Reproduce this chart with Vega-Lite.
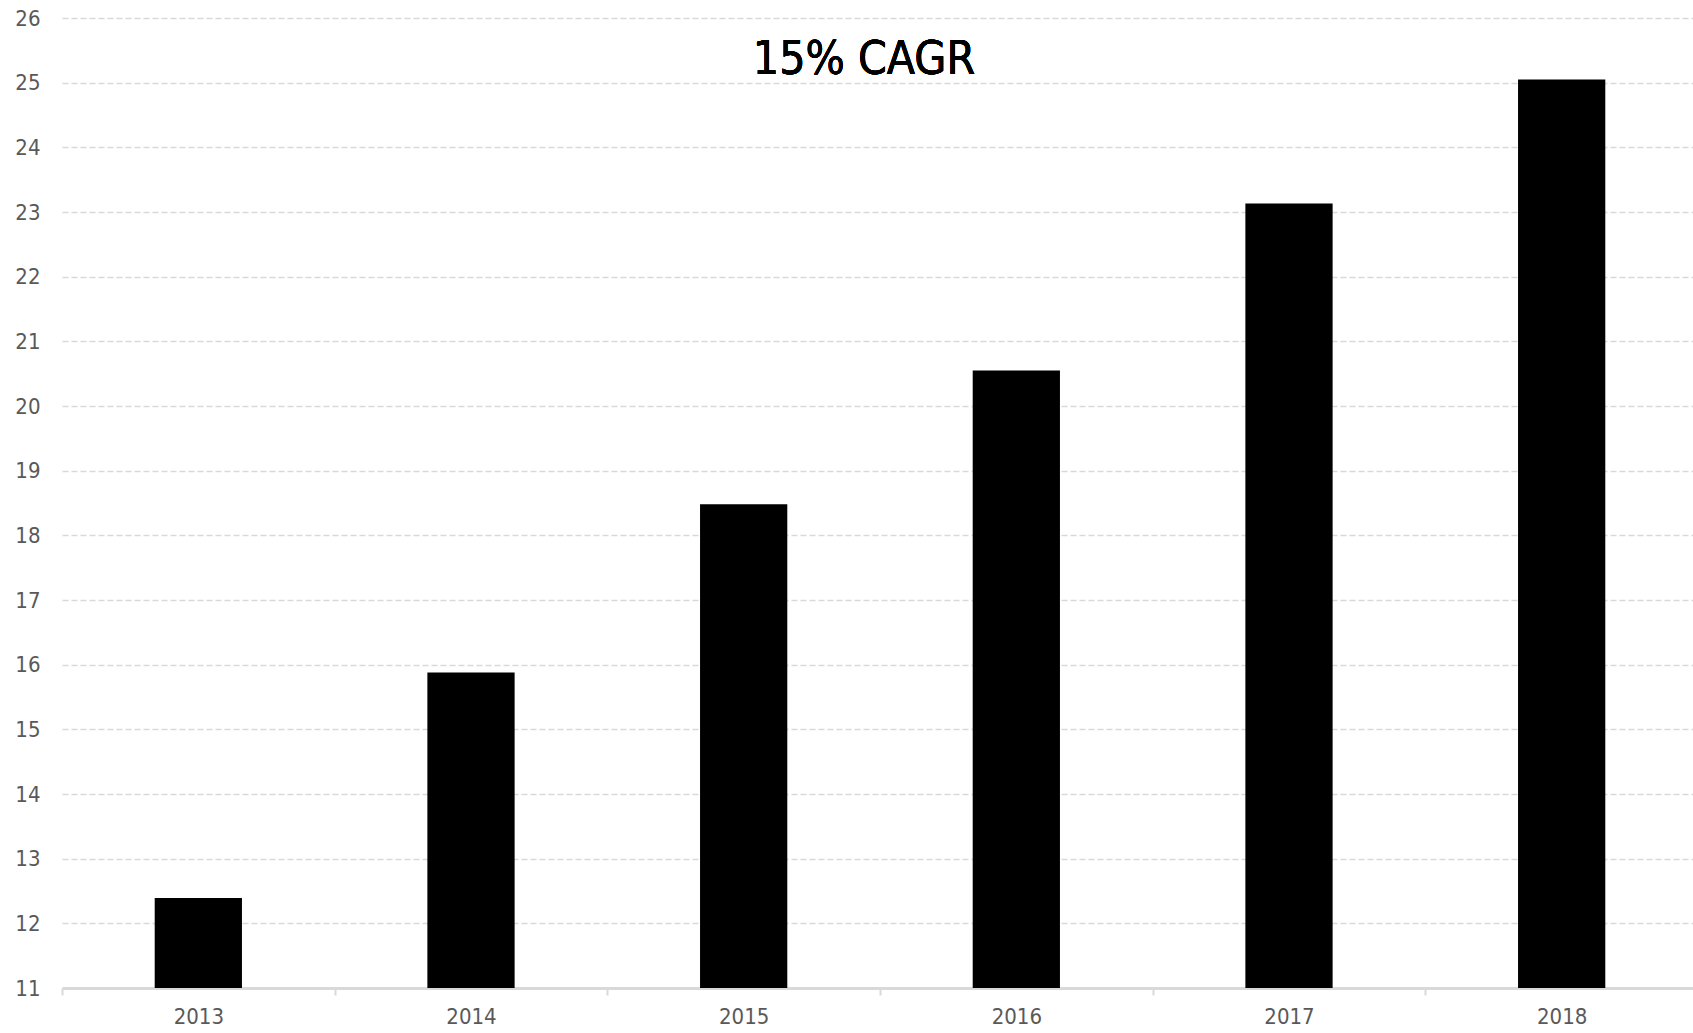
{
  "$schema": "https://vega.github.io/schema/vega-lite/v6.json",
  "width": 1636,
  "height": 970,
  "autosize": "none",
  "padding": {"left": 62, "top": 18, "right": 0, "bottom": 45},
  "background": "white",
  "config": {"view": {"stroke": null}, "font": "DejaVu Sans Condensed"},
  "data": {"values": [
    {"year": "2013", "value": 12.39},
    {"year": "2014", "value": 15.88},
    {"year": "2015", "value": 18.48},
    {"year": "2016", "value": 20.55},
    {"year": "2017", "value": 23.13},
    {"year": "2018", "value": 25.05}
  ]},
  "layer": [
    {
      "mark": {"type": "bar", "color": "black", "width": {"band": 0.32}},
      "encoding": {
        "x": {
          "field": "year", "type": "ordinal",
          "scale": {"paddingInner": 0, "paddingOuter": 0},
          "axis": {
            "title": null, "labelAngle": 0, "tickBand": "extent",
            "domainColor": "#d9d9d9", "domainWidth": 3,
            "tickColor": "#d9d9d9", "tickWidth": 2, "tickSize": 7,
            "labelFont": "DejaVu Sans Condensed", "labelFontSize": 22, "labelColor": "#595959",
            "labelPadding": 11, "grid": false
          }
        },
        "y": {
          "field": "value", "type": "quantitative",
          "scale": {"domain": [11, 26], "zero": false, "nice": false},
          "axis": {
            "title": null, "values": [11,12,13,14,15,16,17,18,19,20,21,22,23,24,25,26],
            "format": "d",
            "domain": false, "ticks": false,
            "labelFont": "DejaVu Sans Condensed", "labelFontSize": 22, "labelColor": "#595959",
            "labelPadding": 22,
            "grid": true, "gridColor": "#d9d9d9", "gridDash": [6, 3], "gridWidth": 1.5
          }
        },
        "y2": {"datum": 11}
      }
    },
    {
      "mark": {"type": "text", "text": "15% CAGR", "fontSize": 46, "font": "DejaVu Sans Condensed", "color": "black", "baseline": "alphabetic", "align": "center", "dx": -16},
      "encoding": {
        "x": {"datum": "2016", "type": "ordinal", "bandPosition": 0},
        "y": {"datum": 25.13, "type": "quantitative"}
      }
    }
  ]
}
